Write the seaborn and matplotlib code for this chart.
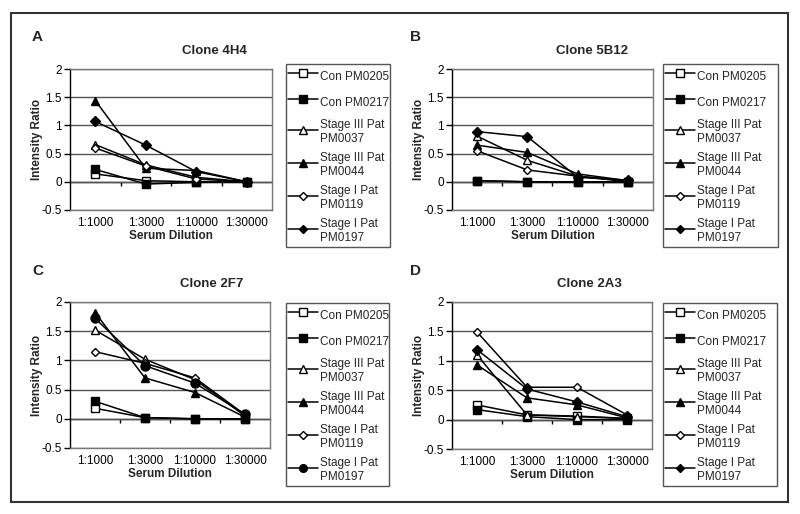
import matplotlib
matplotlib.use("Agg")
import matplotlib.pyplot as plt
import seaborn as sns

sns.set_theme(style="white")
plt.rcParams['font.family'] = ['Liberation Sans', 'DejaVu Sans']
plt.rcParams['axes.unicode_minus'] = False

# data
dilutions = ["1:1000", "1:3000", "1:10000", "1:30000"]
x_pos = [0, 1, 2, 3]
y_ticks = [-0.5, 0, 0.5, 1, 1.5, 2]
y_tick_labels = ["-0.5", "0", "0.5", "1", "1.5", "2"]

series_names = ["Con PM0205", "Con PM0217",
                "Stage III Pat\nPM0037", "Stage III Pat\nPM0044",
                "Stage I Pat\nPM0119", "Stage I Pat\nPM0197"]

# one row per series, in the order of series_names
clone_4h4 = [[0.14, 0.02, 0.00, 0.00],
             [0.22, -0.04, -0.01, 0.00],
             [0.66, 0.30, 0.08, 0.00],
             [1.44, 0.24, 0.20, 0.00],
             [0.60, 0.28, 0.05, 0.00],
             [1.07, 0.65, 0.18, 0.00]]

clone_5b12 = [[0.02, 0.00, 0.00, 0.00],
              [0.02, 0.00, -0.01, -0.01],
              [0.81, 0.38, 0.10, 0.00],
              [0.65, 0.52, 0.14, 0.02],
              [0.55, 0.21, 0.10, 0.02],
              [0.89, 0.80, 0.08, 0.03]]

clone_2f7 = [[0.18, 0.02, 0.00, 0.00],
             [0.30, 0.02, 0.00, 0.00],
             [1.52, 1.02, 0.67, 0.05],
             [1.82, 0.70, 0.45, 0.03],
             [1.15, 0.95, 0.70, 0.07],
             [1.72, 0.91, 0.61, 0.08]]

clone_2a3 = [[0.25, 0.08, 0.06, 0.02],
             [0.17, 0.05, 0.00, 0.00],
             [1.10, 0.08, 0.05, 0.02],
             [0.93, 0.37, 0.25, 0.03],
             [1.49, 0.55, 0.55, 0.08],
             [1.19, 0.52, 0.30, 0.05]]

# marker styles: (marker, facecolor, size)
styles_diamond = [('s', 'white', 6), ('s', 'black', 6),
                  ('^', 'white', 6), ('^', 'black', 6),
                  ('D', 'white', 4.5), ('D', 'black', 5)]
styles_circle = styles_diamond[:5] + [('o', 'black', 6.5)]

W, H = 800, 514
fig = plt.figure(figsize=(W / 100, H / 100), dpi=100)


def px_box(left, top, right, bottom):
    return [left / W, 1 - bottom / H, (right - left) / W, (bottom - top) / H]


panels = [
    # letter, title, data, styles, plot box, title x, letter pos, legend box
    ("A", "Clone 4H4", clone_4h4, styles_diamond, (70, 69, 272, 210), 214, (32, 37), (286, 64, 390)),
    ("B", "Clone 5B12", clone_5b12, styles_diamond, (452, 69, 653, 210), 592, (410, 37), (663, 64, 778)),
    ("C", "Clone 2F7", clone_2f7, styles_circle, (70, 302, 270, 448), 212, (32, 271), (286, 303, 389)),
    ("D", "Clone 2A3", clone_2a3, styles_diamond, (452, 302, 652, 449), 589, (410, 271), (663, 303, 777)),
]

for letter, title, data, styles, box, title_x, letter_xy, leg_box in panels:
    ax = fig.add_axes(px_box(*box))
    for name, vals, (mk, fc, ms) in zip(series_names, data, styles):
        sns.lineplot(x=x_pos, y=vals, ax=ax, color='black', linewidth=1.1,
                     marker=mk, markersize=ms, markerfacecolor=fc,
                     markeredgecolor='black', markeredgewidth=1.0,
                     label=name, legend=False)

    ax.set_xlim(-0.5, 3.5)
    ax.set_ylim(-0.5, 2)
    ax.set_xticks(x_pos)
    ax.set_xticklabels(dilutions, fontsize=8.5, color='black')
    ax.set_yticks(y_ticks)
    ax.set_yticklabels(y_tick_labels, fontsize=8.5, color='black')
    ax.tick_params(axis='x', length=0, pad=5)
    ax.tick_params(axis='y', direction='out', length=4, width=1, color='black', pad=2, left=True)
    ax.yaxis.grid(True, color='#555555', linewidth=1.0)
    ax.xaxis.grid(False)
    ax.set_axisbelow(True)
    for side in ['top', 'right', 'bottom']:
        ax.spines[side].set_color('#777777')
        ax.spines[side].set_linewidth(1.0)
    ax.spines['left'].set_color('black')
    ax.spines['left'].set_linewidth(1.0)

    # category axis crossing at zero, with ticks between categories
    sec = ax.secondary_xaxis(0.2)
    sec.set_xticks([0.5, 1.5, 2.5])
    sec.xaxis.set_ticks_position('bottom')
    sec.tick_params(axis='x', direction='out', length=3, width=1, color='black', labelbottom=False)
    sec.spines['bottom'].set_color('black')
    sec.spines['bottom'].set_linewidth(1.0)

    ax.set_xlabel("Serum Dilution", fontsize=8.5, fontweight='bold', labelpad=1)
    ax.set_ylabel("Intensity Ratio", fontsize=8.5, fontweight='bold', labelpad=-1)

    tx = (title_x - box[0]) / (box[2] - box[0])
    ax.set_title(title, x=tx, fontsize=9.5, fontweight='bold', pad=11)

    fig.text(letter_xy[0] / W, 1 - letter_xy[1] / H, letter, fontsize=11,
             fontweight='bold', va='center', ha='left')

    lx, ly, rx = leg_box
    handles, labels = ax.get_legend_handles_labels()
    fig.legend(handles, labels, loc='upper left', mode='expand',
               bbox_to_anchor=(lx / W, 1 - (ly + 10) / H, (rx - lx) / W, 10 / H),
               borderaxespad=0, fontsize=8.5, frameon=True, fancybox=False,
               edgecolor='#555555', framealpha=1, handlelength=2.5,
               handletextpad=0.15, handleheight=2.1, labelspacing=0.62,
               borderpad=0.2, markerscale=0.85)

# outer frame around the whole figure
fig.add_artist(plt.Rectangle((11 / W, 1 - 502 / H), 777 / W, 489 / H,
                             transform=fig.transFigure, fill=False,
                             edgecolor='#333333', linewidth=1.5))

fig.savefig("out.png", dpi=100)
